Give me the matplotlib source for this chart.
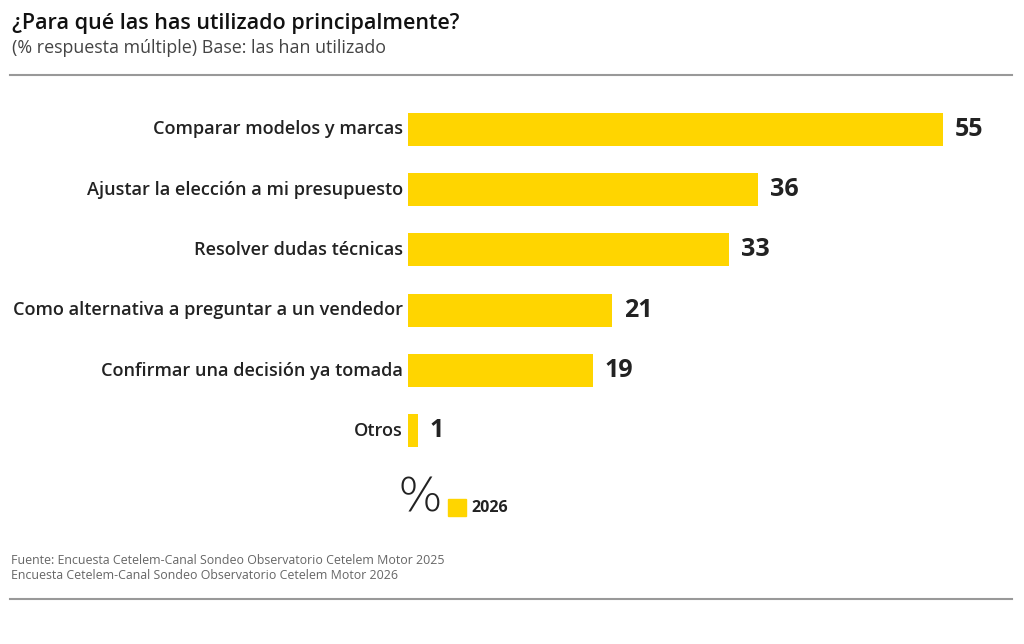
import matplotlib
matplotlib.use("Agg")
import matplotlib.pyplot as plt
from matplotlib.patches import Rectangle
from matplotlib.lines import Line2D

plt.rcParams['font.family'] = ['Open Sans', 'DejaVu Sans']

categories = ["Comparar modelos y marcas",
              "Ajustar la elección a mi presupuesto",
              "Resolver dudas técnicas",
              "Como alternativa a preguntar a un vendedor",
              "Confirmar una decisión ya tomada",
              "Otros"]
values_2026 = [55, 36, 33, 21, 19, 1]
series_name = "2026"

title = "¿Para qué las has utilizado principalmente?"
subtitle = "(% respuesta múltiple) Base: las han utilizado"
source = ("Fuente: Encuesta Cetelem-Canal Sondeo Observatorio Cetelem Motor 2025\n"
          "Encuesta Cetelem-Canal Sondeo Observatorio Cetelem Motor 2026")

YELLOW = "#FFD500"
DARK = "#222222"

W, H = 1024, 644
fig = plt.figure(figsize=(W/100, H/100), dpi=100)

def fx(px): return px / W
def fy(py): return 1 - py / H

ax_left, ax_right, ax_top, ax_bot = 408, 1000, 99, 461
ax = fig.add_axes([fx(ax_left), fy(ax_bot), fx(ax_right - ax_left), (ax_bot - ax_top) / H])
pos = list(range(len(categories)))
ax.barh(pos, values_2026, height=0.55, color=YELLOW)
ax.set_xlim(0, (ax_right - ax_left) / 9.73)
ax.set_ylim(len(categories) - 0.5, -0.5)
ax.axis("off")
for p, v, c in zip(pos, values_2026, categories):
    ax.text(v + 1.2, p, str(v), va="center", ha="left", fontsize=18,
            fontweight="bold", color=DARK)
    ax.text(-0.55, p, c, va="center", ha="right", fontsize=13.1, color=DARK,
            fontweight="semibold")

fig.text(fx(12), fy(24), title, fontsize=15.5, fontweight="semibold", color="#111111",
         va="center", ha="left")
fig.text(fx(12), fy(48), subtitle, fontsize=12.9, color="#444444",
         va="center", ha="left")
fig.add_artist(Line2D([fx(10), fx(1012)], [fy(75), fy(75)], color="#999999", lw=1.5))
fig.add_artist(Line2D([fx(10), fx(1012)], [fy(599), fy(599)], color="#999999", lw=1.5))

fig.text(fx(420), fy(498), "%", fontsize=34, fontweight="light", color=DARK,
         va="center", ha="center", family=["DejaVu Sans"])
fig.add_artist(Rectangle((fx(448), fy(516)), fx(18), 17 / H, color=YELLOW))
fig.text(fx(471), fy(508), series_name, fontsize=11.5, fontweight="bold", color=DARK,
         va="center", ha="left")

fig.text(fx(11), fy(568), source, fontsize=8.95, color="#666666", va="center",
         ha="left", linespacing=1.25)

fig.savefig("out.png", dpi=100)
